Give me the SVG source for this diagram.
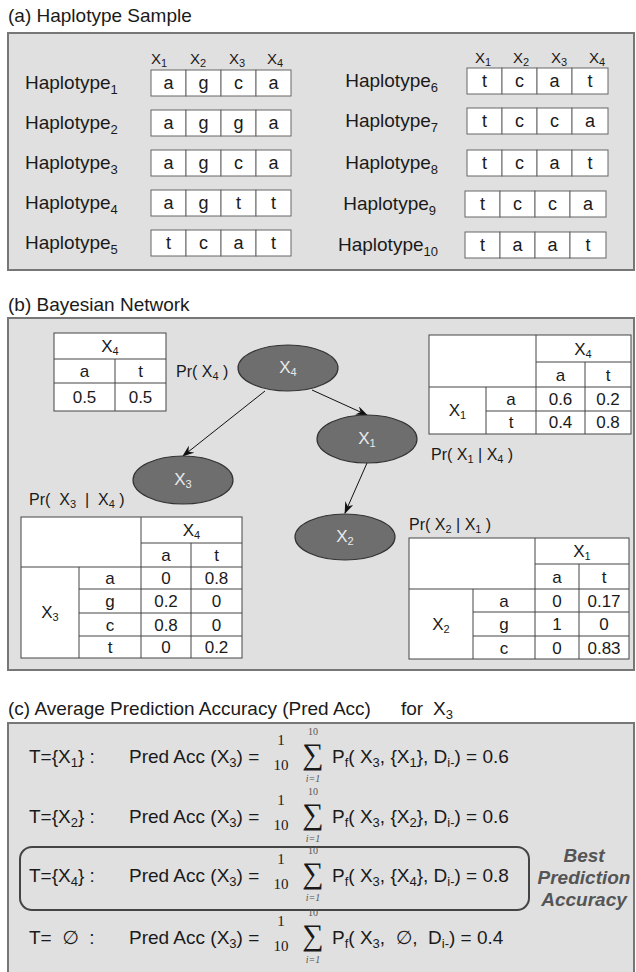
<svg xmlns="http://www.w3.org/2000/svg" width="636" height="972" viewBox="0 0 636 972">
<defs>
<style>
text{font-family:"Liberation Sans","DejaVu Sans",Arial,sans-serif;fill:#1a1a1a}
.ttl{font-size:19px}
.lbl{font-size:19px}
.hdr{font-size:15px}
.cell{fill:#fff;stroke:#666;stroke-width:1}
.ch{font-size:18px;text-anchor:middle}
.panel{fill:#e0e0e0;stroke:#777;stroke-width:2}
.tb{fill:#fff;stroke:#444;stroke-width:1}
.tl{stroke:#444;stroke-width:1;fill:none}
.tt{font-size:17px;text-anchor:middle}
.pr{font-size:16px}
.sb{font-size:11px}
.sl{font-size:13px}
.node{fill:#6e6e6e;stroke:#333;stroke-width:1.2}
.nt{font-size:17px;text-anchor:middle;fill:#eaeaea}
.edge{stroke:#111;stroke-width:1;fill:none;marker-end:url(#ah)}
.f{font-size:19px}
.num{font-family:"Liberation Serif","DejaVu Serif",serif;font-size:15px;text-anchor:middle}
.sig{font-family:"Liberation Serif","DejaVu Serif",serif;font-size:30px;text-anchor:middle}
.lim{font-family:"Liberation Serif","DejaVu Serif",serif;font-size:10px;text-anchor:middle;fill:#555}
.it{font-style:italic}
.best{font-size:19px;font-weight:bold;font-style:italic;text-anchor:middle;fill:#555}
</style>
<marker id="ah" markerWidth="12" markerHeight="9" refX="11" refY="4.5" orient="auto" markerUnits="userSpaceOnUse">
<path d="M0,0 L12,4.5 L0,9 L4,4.5 z" fill="#111"/>
</marker>
</defs>
<rect width="636" height="972" fill="#fff"/>

<!-- (a) haplotype sample -->
<text class="ttl" x="8" y="22">(a) Haplotype Sample</text>
<rect class="panel" x="8" y="33" width="626" height="237"/>
<g id="hap-header">
<text class="hdr" x="151" y="64">X<tspan class="sb" dy="3">1</tspan></text>
<text class="hdr" x="190" y="64">X<tspan class="sb" dy="3">2</tspan></text>
<text class="hdr" x="229" y="64">X<tspan class="sb" dy="3">3</tspan></text>
<text class="hdr" x="267" y="64">X<tspan class="sb" dy="3">4</tspan></text>
<text class="hdr" x="475" y="63">X<tspan class="sb" dy="3">1</tspan></text>
<text class="hdr" x="513" y="63">X<tspan class="sb" dy="3">2</tspan></text>
<text class="hdr" x="551" y="63">X<tspan class="sb" dy="3">3</tspan></text>
<text class="hdr" x="589" y="63">X<tspan class="sb" dy="3">4</tspan></text>
</g>
<g id="hap1">
<text class="lbl" x="25" y="89">Haplotype<tspan class="sl" dy="5">1</tspan></text>
<rect class="cell" x="151" y="70" width="35" height="26"/><rect class="cell" x="186" y="70" width="35" height="26"/><rect class="cell" x="221" y="70" width="35" height="26"/><rect class="cell" x="256" y="70" width="35" height="26"/>
<text class="ch" x="168.5" y="89">a</text><text class="ch" x="203.5" y="89">g</text><text class="ch" x="238.5" y="89">c</text><text class="ch" x="273.5" y="89">a</text>
</g>
<g id="hap2">
<text class="lbl" x="25" y="129">Haplotype<tspan class="sl" dy="5">2</tspan></text>
<rect class="cell" x="151" y="110" width="35" height="26"/><rect class="cell" x="186" y="110" width="35" height="26"/><rect class="cell" x="221" y="110" width="35" height="26"/><rect class="cell" x="256" y="110" width="35" height="26"/>
<text class="ch" x="168.5" y="129">a</text><text class="ch" x="203.5" y="129">g</text><text class="ch" x="238.5" y="129">g</text><text class="ch" x="273.5" y="129">a</text>
</g>
<g id="hap3">
<text class="lbl" x="25" y="169">Haplotype<tspan class="sl" dy="5">3</tspan></text>
<rect class="cell" x="151" y="150" width="35" height="26"/><rect class="cell" x="186" y="150" width="35" height="26"/><rect class="cell" x="221" y="150" width="35" height="26"/><rect class="cell" x="256" y="150" width="35" height="26"/>
<text class="ch" x="168.5" y="169">a</text><text class="ch" x="203.5" y="169">g</text><text class="ch" x="238.5" y="169">c</text><text class="ch" x="273.5" y="169">a</text>
</g>
<g id="hap4">
<text class="lbl" x="25" y="209">Haplotype<tspan class="sl" dy="5">4</tspan></text>
<rect class="cell" x="151" y="190" width="35" height="26"/><rect class="cell" x="186" y="190" width="35" height="26"/><rect class="cell" x="221" y="190" width="35" height="26"/><rect class="cell" x="256" y="190" width="35" height="26"/>
<text class="ch" x="168.5" y="209">a</text><text class="ch" x="203.5" y="209">g</text><text class="ch" x="238.5" y="209">t</text><text class="ch" x="273.5" y="209">t</text>
</g>
<g id="hap5">
<text class="lbl" x="25" y="249">Haplotype<tspan class="sl" dy="5">5</tspan></text>
<rect class="cell" x="151" y="230" width="35" height="26"/><rect class="cell" x="186" y="230" width="35" height="26"/><rect class="cell" x="221" y="230" width="35" height="26"/><rect class="cell" x="256" y="230" width="35" height="26"/>
<text class="ch" x="168.5" y="249">t</text><text class="ch" x="203.5" y="249">c</text><text class="ch" x="238.5" y="249">a</text><text class="ch" x="273.5" y="249">t</text>
</g>
<g id="hap6">
<text class="lbl" x="438" y="87" text-anchor="end">Haplotype<tspan class="sl" dy="5">6</tspan></text>
<rect class="cell" x="467" y="68" width="35" height="26"/><rect class="cell" x="502" y="68" width="35" height="26"/><rect class="cell" x="537" y="68" width="35" height="26"/><rect class="cell" x="572" y="68" width="36" height="26"/>
<text class="ch" x="484.5" y="87">t</text><text class="ch" x="519.5" y="87">c</text><text class="ch" x="554.5" y="87">a</text><text class="ch" x="590" y="87">t</text>
</g>
<g id="hap7">
<text class="lbl" x="438" y="127" text-anchor="end">Haplotype<tspan class="sl" dy="5">7</tspan></text>
<rect class="cell" x="467" y="108" width="35" height="26"/><rect class="cell" x="502" y="108" width="35" height="26"/><rect class="cell" x="537" y="108" width="35" height="26"/><rect class="cell" x="572" y="108" width="36" height="26"/>
<text class="ch" x="484.5" y="127">t</text><text class="ch" x="519.5" y="127">c</text><text class="ch" x="554.5" y="127">c</text><text class="ch" x="590" y="127">a</text>
</g>
<g id="hap8">
<text class="lbl" x="438" y="169" text-anchor="end">Haplotype<tspan class="sl" dy="5">8</tspan></text>
<rect class="cell" x="467" y="150" width="35" height="26"/><rect class="cell" x="502" y="150" width="35" height="26"/><rect class="cell" x="537" y="150" width="35" height="26"/><rect class="cell" x="572" y="150" width="36" height="26"/>
<text class="ch" x="484.5" y="169">t</text><text class="ch" x="519.5" y="169">c</text><text class="ch" x="554.5" y="169">a</text><text class="ch" x="590" y="169">t</text>
</g>
<g id="hap9">
<text class="lbl" x="436" y="210" text-anchor="end">Haplotype<tspan class="sl" dy="5">9</tspan></text>
<rect class="cell" x="465" y="191" width="35" height="26"/><rect class="cell" x="500" y="191" width="35" height="26"/><rect class="cell" x="535" y="191" width="35" height="26"/><rect class="cell" x="570" y="191" width="36" height="26"/>
<text class="ch" x="482.5" y="210">t</text><text class="ch" x="517.5" y="210">c</text><text class="ch" x="552.5" y="210">c</text><text class="ch" x="588" y="210">a</text>
</g>
<g id="hap10">
<text class="lbl" x="438" y="251" text-anchor="end">Haplotype<tspan class="sl" dy="5">10</tspan></text>
<rect class="cell" x="465" y="232" width="35" height="26"/><rect class="cell" x="500" y="232" width="35" height="26"/><rect class="cell" x="535" y="232" width="35" height="26"/><rect class="cell" x="570" y="232" width="36" height="26"/>
<text class="ch" x="482.5" y="251">t</text><text class="ch" x="517.5" y="251">a</text><text class="ch" x="552.5" y="251">a</text><text class="ch" x="588" y="251">t</text>
</g>

<!-- (b) bayesian network -->
<text class="ttl" x="8" y="311">(b) Bayesian Network</text>
<rect class="panel" x="8" y="318" width="626" height="352"/>

<g id="cpt-x4">
<rect class="tb" x="54" y="333" width="112" height="78"/>
<path class="tl" d="M54,359H166M54,383H166M115,359V411"/>
<text class="tt" x="110" y="352">X<tspan class="sb" dy="3">4</tspan></text>
<text class="tt" x="84.5" y="377">a</text><text class="tt" x="140.5" y="377">t</text>
<text class="tt" x="84.5" y="403">0.5</text><text class="tt" x="140.5" y="403">0.5</text>
<text class="pr" x="176" y="377">Pr( X<tspan class="sb" dy="3">4</tspan><tspan dy="-3"> )</tspan></text>
</g>

<g id="cpt-x1">
<rect class="tb" x="429" y="335" width="202" height="99"/>
<path class="tl" d="M536,362H631M429,387H631M486,411H631M486,387V434M536,335V434M585,362V434"/>
<text class="tt" x="583" y="355">X<tspan class="sb" dy="3">4</tspan></text>
<text class="tt" x="560.5" y="381">a</text><text class="tt" x="608" y="381">t</text>
<text class="tt" x="457.5" y="416">X<tspan class="sb" dy="3">1</tspan></text>
<text class="tt" x="511" y="405">a</text><text class="tt" x="511" y="428">t</text>
<text class="tt" x="560.5" y="405">0.6</text><text class="tt" x="608" y="405">0.2</text>
<text class="tt" x="560.5" y="428">0.4</text><text class="tt" x="608" y="428">0.8</text>
<text class="pr" x="431" y="460">Pr( X<tspan class="sb" dy="3">1</tspan><tspan dy="-3"> | X</tspan><tspan class="sb" dy="3">4</tspan><tspan dy="-3"> )</tspan></text>
</g>

<g id="cpt-x3">
<rect class="tb" x="21" y="517" width="221" height="141"/>
<path class="tl" d="M141,543H242M21,567H242M79,589H242M79,613H242M79,636H242M79,567V658M141,517V658M191,543V658"/>
<text class="tt" x="191.5" y="536">X<tspan class="sb" dy="3">4</tspan></text>
<text class="tt" x="166" y="561">a</text><text class="tt" x="216.5" y="561">t</text>
<text class="tt" x="50" y="618">X<tspan class="sb" dy="3">3</tspan></text>
<text class="tt" x="110" y="584">a</text><text class="tt" x="166" y="584">0</text><text class="tt" x="216.5" y="584">0.8</text>
<text class="tt" x="110" y="607">g</text><text class="tt" x="166" y="607">0.2</text><text class="tt" x="216.5" y="607">0</text>
<text class="tt" x="110" y="630.5">c</text><text class="tt" x="166" y="630.5">0.8</text><text class="tt" x="216.5" y="630.5">0</text>
<text class="tt" x="110" y="653">t</text><text class="tt" x="166" y="653">0</text><text class="tt" x="216.5" y="653">0.2</text>
<text class="pr" x="29" y="505" xml:space="preserve">Pr(  X<tspan class="sb" dy="3">3</tspan><tspan dy="-3">  |  X</tspan><tspan class="sb" dy="3">4</tspan><tspan dy="-3"> )</tspan></text>
</g>

<g id="cpt-x2">
<rect class="tb" x="409" y="538" width="220" height="121"/>
<path class="tl" d="M535,564H629M409,589H629M473,612H629M473,636H629M473,589V659M535,538V659M579,564V659"/>
<text class="tt" x="582" y="557">X<tspan class="sb" dy="3">1</tspan></text>
<text class="tt" x="557" y="582.5">a</text><text class="tt" x="604" y="582.5">t</text>
<text class="tt" x="441" y="630">X<tspan class="sb" dy="3">2</tspan></text>
<text class="tt" x="504" y="606.5">a</text><text class="tt" x="557" y="606.5">0</text><text class="tt" x="604" y="606.5">0.17</text>
<text class="tt" x="504" y="630">g</text><text class="tt" x="557" y="630">1</text><text class="tt" x="604" y="630">0</text>
<text class="tt" x="504" y="653.5">c</text><text class="tt" x="557" y="653.5">0</text><text class="tt" x="604" y="653.5">0.83</text>
<text class="pr" x="409" y="530">Pr( X<tspan class="sb" dy="3">2</tspan><tspan dy="-3"> | X</tspan><tspan class="sb" dy="3">1</tspan><tspan dy="-3"> )</tspan></text>
</g>

<g id="edges">
<line class="edge" x1="265" y1="391" x2="183" y2="456"/>
<line class="edge" x1="312" y1="390" x2="367" y2="415"/>
<line class="edge" x1="367" y1="463" x2="345" y2="513"/>
</g>

<g id="node-x4">
<ellipse class="node" cx="288" cy="368" rx="50" ry="23"/>
<text class="nt" x="288" y="373">X<tspan class="sb" dy="3">4</tspan></text>
</g>
<g id="node-x1">
<ellipse class="node" cx="367" cy="439" rx="50" ry="24"/>
<text class="nt" x="367" y="444">X<tspan class="sb" dy="3">1</tspan></text>
</g>
<g id="node-x3">
<ellipse class="node" cx="183" cy="480" rx="50" ry="24"/>
<text class="nt" x="183" y="485">X<tspan class="sb" dy="3">3</tspan></text>
</g>
<g id="node-x2">
<ellipse class="node" cx="345" cy="537" rx="50" ry="23"/>
<text class="nt" x="345" y="542">X<tspan class="sb" dy="3">2</tspan></text>
</g>

<!-- (c) average prediction accuracy -->
<text class="ttl" x="8" y="715">(c) Average Prediction Accuracy (Pred Acc)</text>
<text class="ttl" x="401" y="715">for</text>
<text class="ttl" x="433" y="715">X<tspan class="sl" dy="4">3</tspan></text>
<rect class="panel" x="8" y="723" width="626" height="260"/>

<g id="row-x1">
<text class="f" x="29" y="763">T={X<tspan class="sl" dy="4">1</tspan><tspan dy="-4">} :</tspan></text>
<text class="f" x="129" y="763">Pred Acc (X<tspan class="sl" dy="4">3</tspan><tspan dy="-4">) =</tspan></text>
<text class="num" x="281" y="745">1</text><text class="num" x="281" y="770">10</text>
<text class="sig" x="313" y="764">∑</text>
<text class="lim" x="313" y="734.5">10</text><text class="lim it" x="313" y="782">i=1</text>
<text class="f" x="332" y="763">P<tspan class="sl" dy="4">f</tspan><tspan dy="-4">( X</tspan><tspan class="sl" dy="4">3</tspan><tspan dy="-4">, {X</tspan><tspan class="sl" dy="4">1</tspan><tspan dy="-4">}, D</tspan><tspan class="sl" dy="4">i-</tspan><tspan dy="-4">) = 0.6</tspan></text>
</g>
<g id="row-x2">
<text class="f" x="29" y="823">T={X<tspan class="sl" dy="4">2</tspan><tspan dy="-4">} :</tspan></text>
<text class="f" x="129" y="823">Pred Acc (X<tspan class="sl" dy="4">3</tspan><tspan dy="-4">) =</tspan></text>
<text class="num" x="281" y="805">1</text><text class="num" x="281" y="830">10</text>
<text class="sig" x="313" y="824">∑</text>
<text class="lim" x="313" y="794.5">10</text><text class="lim it" x="313" y="842">i=1</text>
<text class="f" x="332" y="823">P<tspan class="sl" dy="4">f</tspan><tspan dy="-4">( X</tspan><tspan class="sl" dy="4">3</tspan><tspan dy="-4">, {X</tspan><tspan class="sl" dy="4">2</tspan><tspan dy="-4">}, D</tspan><tspan class="sl" dy="4">i-</tspan><tspan dy="-4">) = 0.6</tspan></text>
</g>
<g id="row-x4">
<rect x="20" y="847" width="509" height="63" rx="12" fill="none" stroke="#444" stroke-width="2"/>
<text class="f" x="29" y="882">T={X<tspan class="sl" dy="4">4</tspan><tspan dy="-4">} :</tspan></text>
<text class="f" x="129" y="882">Pred Acc (X<tspan class="sl" dy="4">3</tspan><tspan dy="-4">) =</tspan></text>
<text class="num" x="281" y="864">1</text><text class="num" x="281" y="889">10</text>
<text class="sig" x="313" y="883">∑</text>
<text class="lim" x="313" y="853.5">10</text><text class="lim it" x="313" y="901">i=1</text>
<text class="f" x="332" y="882">P<tspan class="sl" dy="4">f</tspan><tspan dy="-4">( X</tspan><tspan class="sl" dy="4">3</tspan><tspan dy="-4">, {X</tspan><tspan class="sl" dy="4">4</tspan><tspan dy="-4">}, D</tspan><tspan class="sl" dy="4">i-</tspan><tspan dy="-4">) = 0.8</tspan></text>
<text class="best" x="584" y="862">Best</text>
<text class="best" x="584" y="884">Prediction</text>
<text class="best" x="584" y="906">Accuracy</text>
</g>
<g id="row-empty">
<text class="f" x="29" y="944" xml:space="preserve">T=  ∅  :</text>
<text class="f" x="129" y="944">Pred Acc (X<tspan class="sl" dy="4">3</tspan><tspan dy="-4">) =</tspan></text>
<text class="num" x="281" y="926">1</text><text class="num" x="281" y="951">10</text>
<text class="sig" x="313" y="945">∑</text>
<text class="lim" x="313" y="915.5">10</text><text class="lim it" x="313" y="963">i=1</text>
<text class="f" x="332" y="944" xml:space="preserve">P<tspan class="sl" dy="4">f</tspan><tspan dy="-4">( X</tspan><tspan class="sl" dy="4">3</tspan><tspan dy="-4">,  ∅,  D</tspan><tspan class="sl" dy="4">i-</tspan><tspan dy="-4">) = 0.4</tspan></text>
</g>
</svg>
